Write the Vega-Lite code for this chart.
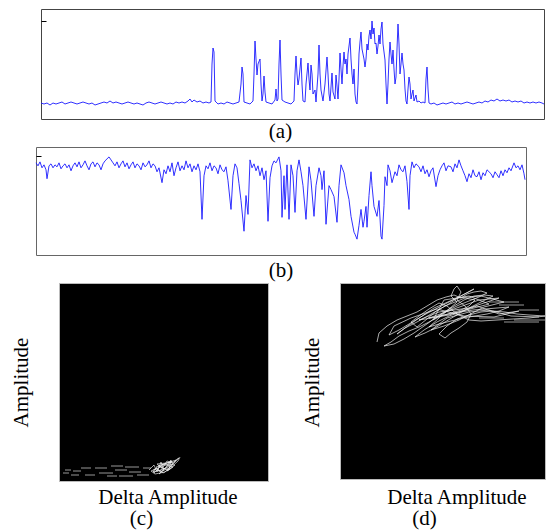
{
"$schema": "https://vega.github.io/schema/vega-lite/v6.json",
"background": "white",
"padding": {"left": 10, "top": 8, "right": 0, "bottom": 0},
"config": {
  "view": {"stroke": null},
  "axis": {"labels": false, "ticks": false, "domain": false, "grid": false, "titleFont": "Liberation Serif, Times New Roman, DejaVu Serif, serif", "titleFontSize": 21, "titleFontWeight": "normal", "titleColor": "#000"},
  "title": {"font": "Liberation Serif, Times New Roman, DejaVu Serif, serif", "fontSize": 21, "fontWeight": "normal", "color": "#000", "orient": "bottom", "baseline": "top", "anchor": "middle", "frame": "group"}
},
"datasets": {
  "sigA": [{"t":0,"a":1},{"t":3,"a":0},{"t":6,"a":1},{"t":9,"a":-1},{"t":12,"a":1},{"t":15,"a":0},{"t":18,"a":1},{"t":21,"a":2},{"t":24,"a":0},{"t":27,"a":1},{"t":30,"a":2},{"t":33,"a":1},{"t":36,"a":0},{"t":39,"a":1},{"t":42,"a":2},{"t":45,"a":1},{"t":48,"a":0},{"t":51,"a":1},{"t":54,"a":-1},{"t":57,"a":0},{"t":60,"a":1},{"t":63,"a":2},{"t":66,"a":1},{"t":69,"a":3},{"t":72,"a":1},{"t":75,"a":2},{"t":78,"a":1},{"t":81,"a":0},{"t":84,"a":1},{"t":87,"a":2},{"t":90,"a":1},{"t":93,"a":0},{"t":96,"a":1},{"t":99,"a":0},{"t":102,"a":-1},{"t":105,"a":1},{"t":108,"a":2},{"t":111,"a":1},{"t":114,"a":0},{"t":117,"a":1},{"t":120,"a":2},{"t":123,"a":1},{"t":126,"a":0},{"t":129,"a":1},{"t":132,"a":0},{"t":135,"a":2},{"t":138,"a":1},{"t":141,"a":2},{"t":144,"a":1},{"t":147,"a":3},{"t":149,"a":5},{"t":151,"a":2},{"t":153,"a":4},{"t":156,"a":2},{"t":159,"a":3},{"t":162,"a":1},{"t":165,"a":2},{"t":168,"a":1},
  {"t":170,"a":2},{"t":171,"a":40},{"t":172,"a":56},{"t":173,"a":52},{"t":174,"a":3},{"t":177,"a":0},{"t":180,"a":1},{"t":183,"a":0},{"t":186,"a":2},{"t":189,"a":1},{"t":192,"a":0},{"t":195,"a":1},{"t":198,"a":2},{"t":200,"a":20},{"t":201,"a":37},{"t":202,"a":30},{"t":203,"a":2},{"t":206,"a":1},{"t":209,"a":0},{"t":212,"a":3},{"t":213,"a":30},{"t":214,"a":63},{"t":215,"a":45},{"t":216,"a":29},{"t":217,"a":40},{"t":219,"a":45},{"t":220,"a":20},{"t":221,"a":3},{"t":222,"a":10},{"t":223,"a":28},{"t":224,"a":12},{"t":225,"a":2},{"t":228,"a":1},{"t":231,"a":0},{"t":234,"a":4},{"t":235,"a":15},{"t":236,"a":3},{"t":237,"a":5},{"t":238,"a":40},{"t":239,"a":64},{"t":240,"a":30},{"t":241,"a":4},{"t":244,"a":2},{"t":247,"a":1},{"t":250,"a":0},{"t":253,"a":3},{"t":254,"a":30},{"t":255,"a":48},{"t":256,"a":30},{"t":257,"a":19},{"t":258,"a":25},{"t":260,"a":46},{"t":261,"a":20},{"t":262,"a":3},{"t":264,"a":2},{"t":265,"a":20},{"t":267,"a":41},{"t":268,"a":25},{"t":269,"a":14},{"t":270,"a":39},{"t":271,"a":30},{"t":272,"a":10},{"t":274,"a":14},{"t":275,"a":2},{"t":277,"a":30},{"t":278,"a":59},{"t":279,"a":30},{"t":280,"a":14},{"t":282,"a":3},{"t":284,"a":20},{"t":286,"a":47},{"t":287,"a":30},{"t":288,"a":10},{"t":289,"a":3},{"t":291,"a":31},{"t":292,"a":12},{"t":294,"a":5},{"t":295,"a":29},{"t":296,"a":18},{"t":297,"a":5},{"t":298,"a":25},{"t":299,"a":51},{"t":300,"a":35},{"t":301,"a":20},{"t":302,"a":38},{"t":303,"a":52},{"t":304,"a":40},{"t":305,"a":45},{"t":306,"a":30},{"t":307,"a":50},{"t":308,"a":58},{"t":309,"a":66},{"t":310,"a":45},{"t":311,"a":30},{"t":312,"a":20},{"t":313,"a":35},{"t":314,"a":10},{"t":315,"a":2},{"t":316,"a":0},{"t":317,"a":20},{"t":318,"a":50},{"t":319,"a":62},{"t":320,"a":72},{"t":321,"a":55},{"t":322,"a":50},{"t":323,"a":45},{"t":324,"a":37},{"t":325,"a":45},{"t":326,"a":60},{"t":327,"a":54},{"t":328,"a":68},{"t":329,"a":74},{"t":330,"a":65},{"t":331,"a":83},{"t":332,"a":70},{"t":333,"a":76},{"t":334,"a":60},{"t":335,"a":61},{"t":336,"a":50},{"t":337,"a":58},{"t":338,"a":69},{"t":339,"a":60},{"t":340,"a":75},{"t":341,"a":82},{"t":342,"a":60},{"t":343,"a":52},{"t":344,"a":44},{"t":345,"a":20},{"t":346,"a":0},{"t":347,"a":20},{"t":348,"a":45},{"t":349,"a":62},{"t":350,"a":50},{"t":351,"a":40},{"t":352,"a":54},{"t":353,"a":35},{"t":354,"a":20},{"t":355,"a":27},{"t":356,"a":55},{"t":357,"a":80},{"t":358,"a":60},{"t":359,"a":30},{"t":360,"a":40},{"t":361,"a":51},{"t":362,"a":40},{"t":363,"a":34},{"t":364,"a":15},{"t":365,"a":3},{"t":366,"a":0},{"t":367,"a":15},{"t":368,"a":27},{"t":369,"a":20},{"t":370,"a":5},{"t":371,"a":10},{"t":372,"a":14},{"t":373,"a":3},{"t":374,"a":6},{"t":375,"a":9},{"t":376,"a":2},{"t":378,"a":3},{"t":380,"a":1},{"t":382,"a":2},{"t":384,"a":1},{"t":385,"a":25},{"t":386,"a":37},{"t":387,"a":15},{"t":388,"a":1},
  {"t":390,"a":0},{"t":393,"a":1},{"t":396,"a":-1},{"t":399,"a":0},{"t":402,"a":1},{"t":405,"a":0},{"t":408,"a":1},{"t":411,"a":2},{"t":414,"a":0},{"t":417,"a":1},{"t":420,"a":0},{"t":423,"a":1},{"t":426,"a":2},{"t":429,"a":1},{"t":432,"a":0},{"t":435,"a":1},{"t":438,"a":2},{"t":441,"a":1},{"t":444,"a":3},{"t":447,"a":2},{"t":450,"a":4},{"t":453,"a":3},{"t":456,"a":5},{"t":459,"a":3},{"t":462,"a":4},{"t":465,"a":3},{"t":468,"a":4},{"t":471,"a":2},{"t":474,"a":3},{"t":477,"a":2},{"t":480,"a":3},{"t":483,"a":1},{"t":486,"a":2},{"t":489,"a":1},{"t":492,"a":2},{"t":495,"a":1},{"t":498,"a":2},{"t":501,"a":1},{"t":503,"a":0}],
  "sigB": [{"s":0,"b":93},{"s":2,"b":90},{"s":4,"b":94},{"s":6,"b":88},{"s":8,"b":91},{"s":10,"b":86},{"s":11,"b":77},{"s":13,"b":90},{"s":15,"b":92},{"s":17,"b":88},{"s":19,"b":91},{"s":21,"b":89},{"s":23,"b":93},{"s":25,"b":87},{"s":27,"b":90},{"s":29,"b":92},{"s":31,"b":88},{"s":33,"b":91},{"s":35,"b":85},{"s":37,"b":90},{"s":39,"b":93},{"s":41,"b":89},{"s":43,"b":94},{"s":45,"b":88},{"s":47,"b":91},{"s":49,"b":95},{"s":51,"b":90},{"s":53,"b":86},{"s":55,"b":92},{"s":57,"b":94},{"s":59,"b":89},{"s":61,"b":93},{"s":63,"b":91},{"s":65,"b":86},{"s":67,"b":92},{"s":69,"b":95},{"s":71,"b":97},{"s":73,"b":99},{"s":75,"b":96},{"s":77,"b":93},{"s":79,"b":90},{"s":81,"b":94},{"s":83,"b":88},{"s":85,"b":92},{"s":87,"b":95},{"s":89,"b":89},{"s":91,"b":93},{"s":93,"b":87},{"s":95,"b":91},{"s":97,"b":94},{"s":99,"b":88},{"s":101,"b":92},{"s":103,"b":90},{"s":105,"b":86},{"s":107,"b":93},{"s":109,"b":89},{"s":111,"b":91},{"s":113,"b":95},{"s":115,"b":88},{"s":117,"b":92},{"s":119,"b":90},{"s":121,"b":84},{"s":123,"b":88},{"s":126,"b":73},{"s":128,"b":86},{"s":130,"b":82},{"s":132,"b":90},{"s":134,"b":84},{"s":136,"b":93},{"s":138,"b":80},{"s":140,"b":88},{"s":142,"b":94},{"s":144,"b":85},{"s":146,"b":90},{"s":148,"b":86},{"s":150,"b":95},{"s":152,"b":88},{"s":154,"b":92},{"s":156,"b":84},{"s":158,"b":90},{"s":160,"b":86},{"s":162,"b":92},{"s":164,"b":84},{"s":166,"b":36},{"s":168,"b":80},{"s":170,"b":90},{"s":172,"b":87},{"s":174,"b":93},{"s":176,"b":85},{"s":178,"b":90},{"s":180,"b":88},{"s":182,"b":82},{"s":184,"b":91},{"s":186,"b":86},{"s":188,"b":84},{"s":190,"b":89},{"s":192,"b":75},{"s":195,"b":46},{"s":197,"b":80},{"s":199,"b":92},{"s":201,"b":88},{"s":203,"b":72},{"s":205,"b":55},{"s":208,"b":24},{"s":210,"b":60},{"s":212,"b":41},{"s":214,"b":96},{"s":216,"b":88},{"s":218,"b":92},{"s":220,"b":85},{"s":222,"b":90},{"s":224,"b":80},{"s":226,"b":88},{"s":228,"b":76},{"s":230,"b":85},{"s":232,"b":34},{"s":234,"b":78},{"s":236,"b":90},{"s":238,"b":95},{"s":240,"b":93},{"s":242,"b":97},{"s":243,"b":99},{"s":245,"b":85},{"s":246,"b":38},{"s":248,"b":80},{"s":249,"b":46},{"s":251,"b":91},{"s":253,"b":36},{"s":255,"b":91},{"s":257,"b":80},{"s":259,"b":43},{"s":261,"b":85},{"s":263,"b":96},{"s":265,"b":84},{"s":267,"b":70},{"s":270,"b":36},{"s":273,"b":89},{"s":275,"b":75},{"s":278,"b":39},{"s":280,"b":70},{"s":283,"b":88},{"s":285,"b":80},{"s":286,"b":66},{"s":288,"b":85},{"s":290,"b":31},{"s":293,"b":70},{"s":295,"b":66},{"s":298,"b":59},{"s":301,"b":33},{"s":303,"b":70},{"s":305,"b":91},{"s":308,"b":83},{"s":310,"b":70},{"s":313,"b":56},{"s":315,"b":39},{"s":318,"b":23},{"s":319,"b":21},{"s":321,"b":16},{"s":323,"b":30},{"s":325,"b":46},{"s":327,"b":28},{"s":328,"b":34},{"s":330,"b":49},{"s":331,"b":28},{"s":333,"b":60},{"s":335,"b":84},{"s":336,"b":70},{"s":338,"b":49},{"s":341,"b":39},{"s":343,"b":55},{"s":345,"b":19},{"s":346,"b":16},{"s":348,"b":50},{"s":349,"b":79},{"s":351,"b":70},{"s":352,"b":91},{"s":354,"b":85},{"s":356,"b":73},{"s":359,"b":84},{"s":361,"b":80},{"s":363,"b":91},{"s":365,"b":86},{"s":367,"b":84},{"s":369,"b":90},{"s":371,"b":74},{"s":373,"b":46},{"s":374,"b":80},{"s":376,"b":94},{"s":378,"b":88},{"s":380,"b":92},{"s":383,"b":89},{"s":385,"b":84},{"s":387,"b":90},{"s":389,"b":82},{"s":391,"b":86},{"s":393,"b":79},{"s":395,"b":85},{"s":397,"b":88},{"s":400,"b":69},{"s":402,"b":80},{"s":404,"b":86},{"s":406,"b":90},{"s":408,"b":93},{"s":410,"b":85},{"s":412,"b":90},{"s":415,"b":89},{"s":417,"b":84},{"s":419,"b":92},{"s":421,"b":88},{"s":423,"b":96},{"s":425,"b":90},{"s":427,"b":85},{"s":429,"b":80},{"s":431,"b":74},{"s":433,"b":82},{"s":435,"b":78},{"s":437,"b":86},{"s":439,"b":80},{"s":441,"b":79},{"s":443,"b":84},{"s":445,"b":76},{"s":447,"b":83},{"s":449,"b":80},{"s":451,"b":86},{"s":453,"b":84},{"s":455,"b":82},{"s":457,"b":78},{"s":459,"b":84},{"s":461,"b":81},{"s":463,"b":78},{"s":465,"b":85},{"s":467,"b":80},{"s":469,"b":86},{"s":471,"b":83},{"s":473,"b":88},{"s":475,"b":85},{"s":478,"b":93},{"s":480,"b":88},{"s":482,"b":90},{"s":484,"b":86},{"s":486,"b":91},{"s":488,"b":82},{"s":489,"b":76}],
  "scC": [{"x1":90,"y":11},{"x1":95,"y":16},{"x1":98,"y":9},{"x1":102,"y":19},{"x1":105,"y":11},{"x1":100,"y":7},{"x1":108,"y":15},{"x1":112,"y":21},{"x1":110,"y":11},{"x1":103,"y":13},{"x1":98,"y":17},{"x1":107,"y":18},{"x1":115,"y":19},{"x1":118,"y":22},{"x1":120,"y":23},{"x1":112,"y":15},{"x1":106,"y":9},{"x1":96,"y":7},{"x1":92,"y":10},{"x1":101,"y":14},{"x1":110,"y":17},{"x1":116,"y":16},{"x1":111,"y":12},{"x1":104,"y":8},{"x1":97,"y":13},{"x1":94,"y":9},{"x1":102,"y":11},{"x1":108,"y":20},{"x1":114,"y":18},{"x1":109,"y":14},{"x1":100,"y":10},{"x1":95,"y":12},{"x1":95,"y":8},{"x1":103,"y":16},{"x1":113,"y":20},{"x1":106,"y":12},{"x1":99,"y":15},{"x1":117,"y":21},{"x1":110,"y":13},{"x1":101,"y":9},{"x1":97,"y":14},{"x1":105,"y":17},{"x1":114,"y":14},{"x1":108,"y":10},{"x1":119,"y":20},{"x1":121,"y":24}],
  "dashC": [{"x1":4,"x2":10,"y":8},{"x1":6,"x2":12,"y":11},{"x1":14,"x2":22,"y":10},{"x1":22,"x2":32,"y":13},{"x1":36,"x2":48,"y":13},{"x1":40,"x2":54,"y":8},{"x1":52,"x2":64,"y":15},{"x1":56,"x2":68,"y":11},{"x1":66,"x2":80,"y":14},{"x1":70,"x2":82,"y":9},{"x1":84,"x2":92,"y":13},{"x1":78,"x2":90,"y":6},{"x1":26,"x2":36,"y":6},{"x1":48,"x2":58,"y":5},{"x1":60,"x2":74,"y":5},{"x1":12,"x2":20,"y":6}],
  "scD": [{"x1":37,"y":137},{"x1":39,"y":146},{"x1":47,"y":153},{"x1":57,"y":159},{"x1":67,"y":163},{"x1":77,"y":167},{"x1":87,"y":173},{"x1":97,"y":179},{"x1":106,"y":182},{"x1":114,"y":184},{"x1":121,"y":181},{"x1":127,"y":185},{"x1":134,"y":187},{"x1":141,"y":188},{"x1":147,"y":186},{"x1":139,"y":182},{"x1":129,"y":178},{"x1":119,"y":174},{"x1":109,"y":169},{"x1":99,"y":163},{"x1":89,"y":157},{"x1":79,"y":152},{"x1":69,"y":148},{"x1":59,"y":143},{"x1":51,"y":137},{"x1":44,"y":133},{"x1":54,"y":135},{"x1":64,"y":140},{"x1":74,"y":146},{"x1":84,"y":153},{"x1":94,"y":160},{"x1":104,"y":167},{"x1":114,"y":173},{"x1":124,"y":179},{"x1":134,"y":183},{"x1":144,"y":184},{"x1":153,"y":183},{"x1":145,"y":179},{"x1":135,"y":174},{"x1":125,"y":169},{"x1":115,"y":163},{"x1":105,"y":157},{"x1":95,"y":151},{"x1":85,"y":146},{"x1":75,"y":142},{"x1":84,"y":149},{"x1":97,"y":157},{"x1":109,"y":163},{"x1":121,"y":167},{"x1":133,"y":169},{"x1":145,"y":170},{"x1":157,"y":171},{"x1":169,"y":172},{"x1":159,"y":168},{"x1":147,"y":165},{"x1":135,"y":163},{"x1":123,"y":161},{"x1":111,"y":158},{"x1":99,"y":155},{"x1":89,"y":152},{"x1":99,"y":161},{"x1":109,"y":170},{"x1":117,"y":177},{"x1":111,"y":183},{"x1":114,"y":190},{"x1":117,"y":193},{"x1":121,"y":187},{"x1":117,"y":179},{"x1":125,"y":173},{"x1":131,"y":165},{"x1":127,"y":157},{"x1":119,"y":151},{"x1":111,"y":146},{"x1":105,"y":141},{"x1":99,"y":145},{"x1":107,"y":153},{"x1":117,"y":160},{"x1":129,"y":164},{"x1":141,"y":167},{"x1":153,"y":168},{"x1":165,"y":167},{"x1":177,"y":165},{"x1":189,"y":164},{"x1":205,"y":163},{"x1":189,"y":161},{"x1":173,"y":160},{"x1":157,"y":159},{"x1":141,"y":158},{"x1":129,"y":159},{"x1":117,"y":165},{"x1":107,"y":173},{"x1":99,"y":176},{"x1":89,"y":170},{"x1":79,"y":163},{"x1":71,"y":157},{"x1":77,"y":152},{"x1":87,"y":160},{"x1":95,"y":167},{"x1":105,"y":173},{"x1":115,"y":177},{"x1":125,"y":181},{"x1":135,"y":179},{"x1":129,"y":173},{"x1":121,"y":169},{"x1":111,"y":166},{"x1":101,"y":163},{"x1":93,"y":159},{"x1":104,"y":179},{"x1":129,"y":183},{"x1":149,"y":175},{"x1":119,"y":167},{"x1":89,"y":161},{"x1":114,"y":170},{"x1":139,"y":179},{"x1":159,"y":181},{"x1":129,"y":171},{"x1":99,"y":167},{"x1":79,"y":159},{"x1":109,"y":164},{"x1":137,"y":173},{"x1":159,"y":165},{"x1":179,"y":168},{"x1":154,"y":162},{"x1":124,"y":163},{"x1":97,"y":170},{"x1":71,"y":161},{"x1":54,"y":153},{"x1":49,"y":144},{"x1":59,"y":149},{"x1":84,"y":164},{"x1":109,"y":177},{"x1":134,"y":190},{"x1":121,"y":183},{"x1":107,"y":174},{"x1":91,"y":165},{"x1":77,"y":157},{"x1":65,"y":151},{"x1":57,"y":145},{"x1":69,"y":154},{"x1":94,"y":171},{"x1":117,"y":181},{"x1":141,"y":183},{"x1":164,"y":177},{"x1":144,"y":172},{"x1":119,"y":159},{"x1":104,"y":153},{"x1":91,"y":149},{"x1":107,"y":161},{"x1":129,"y":167},{"x1":149,"y":169},{"x1":171,"y":163},{"x1":199,"y":162}],
  "dashD": [{"x1":164,"x2":199,"y":157},{"x1":159,"x2":184,"y":174},{"x1":174,"x2":205,"y":159},{"x1":179,"x2":199,"y":169},{"x1":139,"x2":164,"y":161},{"x1":149,"x2":179,"y":177}],
  "none": []
},
"spacing": 0,
"resolve": {"scale": {"x": "independent", "y": "independent"}},
"vconcat": [
  {
    "spacing": 3,
    "resolve": {"scale": {"x": "independent", "y": "independent"}},
    "vconcat": [
      {
        "spacing": 0,
        "bounds": "flush",
        "resolve": {"scale": {"x": "independent", "y": "independent"}},
        "hconcat": [
          {"width": 5, "height": 20, "data": {"name": "none"}, "mark": {"type": "point", "opacity": 0}},
          {
            "width": 503, "height": 110,
            "view": {"stroke": "#444", "strokeWidth": 1},
            "title": {"text": "(a)", "dx": -12, "offset": 2},
            "data": {"name": "sigA"},
            "mark": {"type": "line", "color": "#1a1aff", "strokeWidth": 0.9},
            "encoding": {
              "x": {"field": "t", "type": "quantitative", "scale": {"domain": [0, 503], "nice": false, "zero": false}, "axis": null},
              "y": {"field": "a", "type": "quantitative", "scale": {"domain": [-15, 95], "nice": false, "zero": false}, "axis": {"title": null, "values": [83], "ticks": true, "tickSize": -5, "tickColor": "#000", "tickWidth": 1}}
            }
          }
        ]
      },
      {
        "width": 490, "height": 108,
        "view": {"stroke": "#666", "strokeWidth": 1},
        "title": {"text": "(b)", "dx": 0, "offset": 5},
        "data": {"name": "sigB"},
        "mark": {"type": "line", "color": "#1a1aff", "strokeWidth": 0.9},
        "encoding": {
          "x": {"field": "s", "type": "quantitative", "scale": {"domain": [0, 490], "nice": false, "zero": false}, "axis": null},
          "y": {"field": "b", "type": "quantitative", "scale": {"domain": [0, 109], "nice": false, "zero": false}, "axis": {"title": null, "values": [100], "ticks": true, "tickSize": -5, "tickColor": "#000", "tickWidth": 1}}
        }
      }
    ]
  },
  {
    "spacing": 0,
    "bounds": "flush",
    "resolve": {"scale": {"x": "independent", "y": "independent"}},
    "hconcat": [
      {"width": 23, "height": 20, "data": {"name": "none"}, "mark": {"type": "point", "opacity": 0}},
      {
        "spacing": 72,
        "bounds": "flush",
        "resolve": {"scale": {"x": "independent", "y": "independent"}},
        "hconcat": [
          {
            "width": 209, "height": 198,
            "view": {"fill": "#000", "stroke": "#bbb", "strokeWidth": 1},
            "title": {"text": "(c)", "dx": -22, "offset": 1},
            "encoding": {
              "x": {"field": "x1", "type": "quantitative", "scale": {"domain": [0, 209], "nice": false, "zero": false}, "axis": {"title": "Delta Amplitude", "titleX": 108.5, "titleY": 22, "titleBaseline": "alphabetic", "titleAlign": "center"}},
              "y": {"field": "y", "type": "quantitative", "scale": {"domain": [0, 198], "nice": false, "zero": false}, "axis": {"title": "Amplitude", "titleX": -31.5, "titleY": 99, "titleBaseline": "alphabetic", "titleAlign": "center", "titleAngle": 270}}
            },
            "layer": [
              {"data": {"name": "dashC"}, "mark": {"type": "rule", "color": "#d8d8d8", "strokeWidth": 0.7}, "encoding": {"x2": {"field": "x2"}}},
              {"data": {"name": "scC"}, "mark": {"type": "line", "color": "#f4f4f4", "strokeWidth": 0.65}, "encoding": {"order": {"value": null}}}
            ]
          },
          {
            "width": 205, "height": 196,
            "view": {"fill": "#000", "stroke": "#bbb", "strokeWidth": 1},
            "title": {"text": "(d)", "dx": -18, "offset": 1},
            "encoding": {
              "x": {"field": "x1", "type": "quantitative", "scale": {"domain": [0, 205], "nice": false, "zero": false}, "axis": {"title": "Delta Amplitude", "titleX": 116.5, "titleY": 24, "titleBaseline": "alphabetic", "titleAlign": "center"}},
              "y": {"field": "y", "type": "quantitative", "scale": {"domain": [0, 196], "nice": false, "zero": false}, "axis": {"title": "Amplitude", "titleX": -22, "titleY": 99, "titleBaseline": "alphabetic", "titleAlign": "center", "titleAngle": 270}}
            },
            "layer": [
              {"data": {"name": "dashD"}, "mark": {"type": "rule", "color": "#d8d8d8", "strokeWidth": 0.7}, "encoding": {"x2": {"field": "x2"}}},
              {"data": {"name": "scD"}, "mark": {"type": "line", "color": "#f4f4f4", "strokeWidth": 0.7}, "encoding": {"order": {"value": null}}}
            ]
          }
        ]
      }
    ]
  }
]
}
